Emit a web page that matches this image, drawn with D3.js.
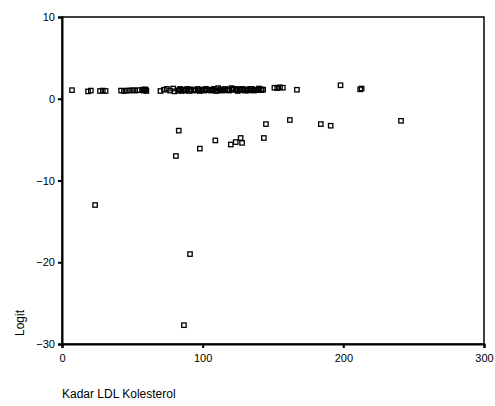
<!DOCTYPE html>
<html>
<head>
<meta charset="utf-8">
<script src="https://cdn.jsdelivr.net/npm/d3@7"></script>
<style>
  body { margin: 0; background: #fff; }
  text { font-family: "Liberation Sans", Arial, sans-serif; fill: #000; }
</style>
</head>
<body>
<svg id="chart" width="495" height="406"></svg>
<script>
// LDL cholesterol (x) and logit (y)
const ldlValues = [
  7.1, 18.5, 20.5, 27, 29, 31, 42, 44, 46, 48, 50, 52, 54, 57, 58, 59, 60,
  70, 72.5, 74.5, 76.8, 79, 80, 82.5, 84, 85, 86.5, 88, 89, 90.5, 92, 93.5,
  95, 96.5, 98, 99.5, 101, 103, 104.5, 106, 108, 110, 111, 112.5, 114, 116,
  117.5, 119, 120.5, 122, 123.5, 125, 126.5, 128, 130, 131.5, 133, 135,
  136.5, 138, 140, 141.5, 143, 151, 153, 155, 157, 167, 198, 212, 213,
  83.5, 87, 91, 94, 97, 102, 107, 109, 113, 115, 118, 121, 124, 127, 129,
  132, 134, 137, 139, 142, 58.5, 59.5,
  23.5, 81, 83, 86.7, 91, 98, 109, 120, 123.5, 127, 128, 143.5, 145, 162,
  184, 191, 241
];
const logitValues = [
  1.05, 0.9, 1.0, 0.95, 1.0, 0.95, 1.0, 0.95, 1.0, 1.0, 1.05, 1.0, 1.05, 1.1, 1.0, 1.15, 0.95,
  0.95, 1.1, 1.2, 1.0, 1.25, 0.9, 1.0, 1.2, 0.95, 1.1, 1.0, 1.2, 0.95, 1.1, 1.0,
  1.05, 1.2, 0.95, 1.1, 1.0, 1.15, 1.05, 1.0, 1.2, 0.95, 1.3, 1.1, 1.0, 1.2,
  1.05, 1.0, 1.3, 1.1, 1.2, 0.95, 1.1, 1.2, 1.0, 1.15, 1.05, 1.2,
  1.0, 1.1, 1.25, 1.05, 1.1, 1.35, 1.3, 1.4, 1.35, 1.1, 1.65, 1.15, 1.25,
  1.1, 1.05, 1.15, 1.1, 1.05, 1.2, 1.1, 1.0, 1.15, 1.05, 1.1, 1.2, 1.05, 1.15, 1.1,
  1.0, 1.2, 1.1, 1.05, 1.15, 1.05, 1.1,
  -13.0, -7.0, -3.9, -27.7, -19.0, -6.1, -5.1, -5.6, -5.3, -4.8, -5.4, -4.8, -3.1, -2.6,
  -3.1, -3.3, -2.7
];
const xTicks = [0, 100, 200, 300];
const yTicks = [10, 0, -10, -20, -30];

const svg = d3.select("#chart");
const plotLeft = 62, plotRight = 484, plotTop = 17, plotBottom = 344;

const x = d3.scaleLinear().domain([0, 300]).range([plotLeft, plotRight]);
const y = d3.scaleLinear().domain([-30, 10]).range([plotBottom, plotTop]);

// frame
svg.append("rect")
  .attr("x", plotLeft).attr("y", plotTop)
  .attr("width", plotRight - plotLeft).attr("height", plotBottom - plotTop)
  .attr("fill", "none").attr("stroke", "#000").attr("stroke-width", 1.5);

// axes
const xAxis = svg.append("g")
  .attr("transform", `translate(0,${plotBottom})`)
  .call(d3.axisBottom(x).tickValues(xTicks).tickSize(4).tickPadding(6));
const yAxis = svg.append("g")
  .attr("transform", `translate(${plotLeft},0)`)
  .call(d3.axisLeft(y).tickValues(yTicks).tickSize(4).tickPadding(3));

[xAxis, yAxis].forEach(g => {
  g.select(".domain").attr("stroke", "#000").attr("stroke-width", 2);
  g.selectAll(".tick line").attr("stroke", "#000").attr("stroke-width", 2);
  g.selectAll(".tick text")
    .style("font-family", "Liberation Sans, Arial, sans-serif")
    .style("font-size", "11px").attr("fill", "#000");
});

// points
const pts = ldlValues.map((v, i) => ({ ldl: v, logit: logitValues[i] }));
svg.append("g").selectAll("rect")
  .data(pts)
  .enter()
  .append("rect")
  .attr("x", d => x(d.ldl) - 2.2)
  .attr("y", d => y(d.logit) - 2.2)
  .attr("width", 4.4)
  .attr("height", 4.4)
  .attr("fill", "none")
  .attr("stroke", "#000")
  .attr("stroke-width", 1.3);

// axis titles
svg.append("text")
  .attr("transform", "translate(24,323) rotate(-90)")
  .attr("text-anchor", "middle")
  .style("font-size", "12px")
  .text("Logit");

svg.append("text")
  .attr("x", plotLeft)
  .attr("y", 398)
  .style("font-size", "12px")
  .text("Kadar LDL Kolesterol");
</script>
</body>
</html>
